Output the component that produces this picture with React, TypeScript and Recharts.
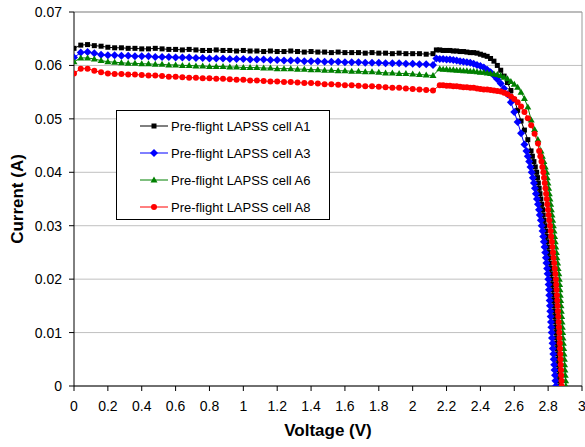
import { CartesianGrid, Legend, Line, LineChart, ReferenceLine, XAxis, YAxis } from "recharts"

// sweep region, same voltage steps for every cell
const sweepVoltage = [
  0, 0.04, 0.08, 0.12, 0.16, 0.2, 0.24, 0.28, 0.32, 0.36, 0.4, 0.44, 0.48, 0.52, 0.56, 0.6, 0.64, 0.68,
  0.72, 0.76, 0.8, 0.84, 0.88, 0.92, 0.96, 1.0, 1.04, 1.08, 1.12, 1.16, 1.2, 1.24, 1.28, 1.32, 1.36, 1.4,
  1.44, 1.48, 1.52, 1.56, 1.6, 1.64, 1.68, 1.72, 1.76, 1.8, 1.84, 1.88, 1.92, 1.96, 2.0, 2.04, 2.08, 2.12,
]

const a1SweepCurrent = [
  0.0632, 0.0638, 0.0639, 0.0637, 0.0636, 0.0634, 0.0633, 0.0633, 0.0632, 0.0632, 0.0631, 0.0631, 0.0632, 0.0631,
  0.063, 0.063, 0.0629, 0.063, 0.0629, 0.0628, 0.0628, 0.0629, 0.0628, 0.0628, 0.0627, 0.0628, 0.0627, 0.0627,
  0.0626, 0.0627, 0.0626, 0.0626, 0.0627, 0.0626, 0.0625, 0.0626, 0.0625, 0.0625, 0.0624, 0.0625, 0.0624, 0.0624,
  0.0624, 0.0623, 0.0624, 0.0623, 0.0623, 0.0622, 0.0623, 0.0622, 0.0622, 0.0622, 0.0621, 0.0622,
]
const a3SweepCurrent = [
  0.0615, 0.0624, 0.0625, 0.0623, 0.062, 0.0619, 0.0619, 0.0618, 0.0618, 0.0617, 0.0617, 0.0617, 0.0616, 0.0616,
  0.0616, 0.0615, 0.0615, 0.0615, 0.0614, 0.0614, 0.0613, 0.0613, 0.0613, 0.0612, 0.0612, 0.0612, 0.0611, 0.0611,
  0.0611, 0.061, 0.061, 0.0609, 0.0609, 0.0609, 0.0608, 0.0608, 0.0608, 0.0607, 0.0607, 0.0607, 0.0606, 0.0606,
  0.0606, 0.0605, 0.0605, 0.0605, 0.0604, 0.0604, 0.0604, 0.0603, 0.0603, 0.0602, 0.0602, 0.0601,
]
const a6SweepCurrent = [
  0.0607, 0.0614, 0.0614, 0.0612, 0.0609, 0.0607, 0.0606, 0.0605, 0.0604, 0.0604, 0.0603, 0.0603, 0.0602, 0.0602,
  0.0601, 0.0601, 0.06, 0.06, 0.0599, 0.0599, 0.0598, 0.0598, 0.0598, 0.0597, 0.0597, 0.0596, 0.0596, 0.0596,
  0.0595, 0.0595, 0.0594, 0.0594, 0.0594, 0.0593, 0.0593, 0.0592, 0.0592, 0.0591, 0.0591, 0.059, 0.059, 0.0589,
  0.0589, 0.0588, 0.0588, 0.0587, 0.0586, 0.0586, 0.0585, 0.0585, 0.0584, 0.0583, 0.0582, 0.0581,
]
const a8SweepCurrent = [
  0.0585, 0.0594, 0.0594, 0.059, 0.0587, 0.0585, 0.0584, 0.0584, 0.0583, 0.0583, 0.0582, 0.0581, 0.0581, 0.058,
  0.0579, 0.0579, 0.0578, 0.0577, 0.0577, 0.0576, 0.0576, 0.0575, 0.0575, 0.0574, 0.0573, 0.0573, 0.0572, 0.0572,
  0.0571, 0.057, 0.057, 0.0569, 0.0569, 0.0568, 0.0567, 0.0567, 0.0566, 0.0565, 0.0565, 0.0564, 0.0563, 0.0563,
  0.0562, 0.0561, 0.0561, 0.056, 0.0559, 0.0558, 0.0558, 0.0557, 0.0556, 0.0555, 0.0554, 0.0553,
]

// knee region [voltage, current]
const a1Knee = [
  [2.14, 0.0629], [2.16, 0.0629], [2.18, 0.0628], [2.2, 0.0628], [2.22, 0.0628], [2.24, 0.0627], [2.26, 0.0627],
  [2.28, 0.0626], [2.3, 0.0626], [2.32, 0.0625], [2.34, 0.0624], [2.36, 0.0624], [2.38, 0.0623], [2.4, 0.0621],
  [2.42, 0.0619], [2.44, 0.0617], [2.46, 0.0613], [2.48, 0.0608], [2.5, 0.06], [2.52, 0.0591], [2.54, 0.058],
  [2.56, 0.0568], [2.58, 0.0553], [2.6, 0.0536], [2.62, 0.0516], [2.64, 0.0496], [2.66, 0.0479], [2.68, 0.0461],
]
const a3Knee = [
  [2.14, 0.0613], [2.16, 0.0612], [2.18, 0.0612], [2.2, 0.0611], [2.22, 0.0611], [2.24, 0.061], [2.26, 0.0609],
  [2.28, 0.0608], [2.3, 0.0607], [2.32, 0.0606], [2.34, 0.0605], [2.36, 0.0603], [2.38, 0.0601], [2.4, 0.0599],
  [2.42, 0.0596], [2.44, 0.0592], [2.46, 0.0587], [2.48, 0.0581], [2.5, 0.0574], [2.52, 0.0566], [2.54, 0.0557],
  [2.56, 0.0546], [2.58, 0.0531], [2.6, 0.0513], [2.62, 0.0494], [2.64, 0.0473], [2.66, 0.0452],
]
const a6Knee = [
  [2.16, 0.0594], [2.18, 0.0593], [2.2, 0.0593], [2.22, 0.0592], [2.24, 0.0592], [2.26, 0.0591], [2.28, 0.0591],
  [2.3, 0.059], [2.32, 0.059], [2.34, 0.0589], [2.36, 0.0589], [2.38, 0.0588], [2.4, 0.0587], [2.42, 0.0587],
  [2.44, 0.0586], [2.46, 0.0585], [2.48, 0.0584], [2.5, 0.0583], [2.52, 0.0581], [2.54, 0.0578], [2.56, 0.0575],
  [2.58, 0.057], [2.6, 0.0565], [2.62, 0.0559], [2.64, 0.055], [2.66, 0.0538], [2.68, 0.0522], [2.7, 0.0498],
  [2.72, 0.048], [2.74, 0.0461],
]
const a8Knee = [
  [2.16, 0.0563], [2.18, 0.0563], [2.2, 0.0562], [2.22, 0.0562], [2.24, 0.0561], [2.26, 0.0561], [2.28, 0.056],
  [2.3, 0.0559], [2.32, 0.0559], [2.34, 0.0558], [2.36, 0.0558], [2.38, 0.0557], [2.4, 0.0556], [2.42, 0.0555],
  [2.44, 0.0555], [2.46, 0.0554], [2.48, 0.0553], [2.5, 0.0552], [2.52, 0.0551], [2.54, 0.0549], [2.56, 0.0546],
  [2.58, 0.0542], [2.6, 0.0537], [2.62, 0.0531], [2.64, 0.0523], [2.66, 0.0513], [2.68, 0.0501], [2.7, 0.0488],
  [2.72, 0.0472], [2.74, 0.0454],
]

// steep region, same current steps for every cell
const steepCurrent = [
  0.044, 0.043, 0.042, 0.041, 0.04, 0.039, 0.038, 0.037, 0.036, 0.035, 0.034, 0.033, 0.032, 0.031, 0.03,
  0.029, 0.028, 0.027, 0.026, 0.025, 0.024, 0.023, 0.022, 0.021, 0.02, 0.019, 0.018, 0.017, 0.016, 0.015,
  0.014, 0.013, 0.012, 0.011, 0.01, 0.009, 0.008, 0.007, 0.006, 0.005, 0.004, 0.003, 0.002, 0.001, 0,
]
const a1SteepVoltage = [
  2.699, 2.707, 2.716, 2.724, 2.732, 2.737, 2.742, 2.747, 2.752, 2.757, 2.762, 2.767, 2.771, 2.776, 2.781,
  2.785, 2.789, 2.793, 2.797, 2.801, 2.805, 2.809, 2.813, 2.817, 2.821, 2.824, 2.826, 2.829, 2.831, 2.834,
  2.836, 2.839, 2.841, 2.844, 2.846, 2.848, 2.85, 2.852, 2.854, 2.856, 2.858, 2.86, 2.862, 2.864, 2.866,
]
const a3SteepVoltage = [
  2.672, 2.68, 2.688, 2.696, 2.703, 2.71, 2.716, 2.722, 2.728, 2.734, 2.74, 2.746, 2.751, 2.757, 2.762,
  2.767, 2.771, 2.775, 2.779, 2.783, 2.787, 2.79, 2.794, 2.797, 2.801, 2.803, 2.805, 2.807, 2.809, 2.811,
  2.813, 2.815, 2.817, 2.819, 2.821, 2.823, 2.826, 2.828, 2.831, 2.833, 2.836, 2.838, 2.841, 2.843, 2.846,
]
const a6SteepVoltage = [
  2.758, 2.766, 2.775, 2.783, 2.791, 2.795, 2.799, 2.803, 2.807, 2.811, 2.815, 2.819, 2.823, 2.827, 2.831,
  2.835, 2.838, 2.842, 2.845, 2.849, 2.852, 2.856, 2.859, 2.863, 2.866, 2.868, 2.87, 2.872, 2.874, 2.876,
  2.878, 2.88, 2.882, 2.884, 2.886, 2.888, 2.89, 2.892, 2.894, 2.896, 2.897, 2.899, 2.901, 2.903, 2.905,
]
const a8SteepVoltage = [
  2.747, 2.754, 2.761, 2.766, 2.772, 2.776, 2.78, 2.784, 2.788, 2.792, 2.795, 2.799, 2.803, 2.807, 2.811,
  2.815, 2.818, 2.822, 2.825, 2.829, 2.832, 2.836, 2.839, 2.843, 2.846, 2.848, 2.85, 2.852, 2.854, 2.856,
  2.858, 2.86, 2.862, 2.864, 2.866, 2.867, 2.869, 2.87, 2.872, 2.873, 2.874, 2.876, 2.877, 2.879, 2.88,
]

const voltageTicks = [0, 0.2, 0.4, 0.6, 0.8, 1, 1.2, 1.4, 1.6, 1.8, 2, 2.2, 2.4, 2.6, 2.8, 3]
const currentTicks = [0, 0.01, 0.02, 0.03, 0.04, 0.05, 0.06, 0.07]

const font = "'Liberation Sans', Arial, sans-serif"

function buildCurve(sweep: number[], knee: number[][], steep: number[]) {
  return [
    ...sweepVoltage.map((v, k) => ({ v, i: sweep[k] })),
    ...knee.map(([v, i]) => ({ v, i })),
    ...steepCurrent.map((i, k) => ({ v: steep[k], i })),
  ]
}

const seriesList = [
  { name: "Pre-flight LAPSS cell A1", color: "#000000", shape: "square", data: buildCurve(a1SweepCurrent, a1Knee, a1SteepVoltage) },
  { name: "Pre-flight LAPSS cell A3", color: "#0000ff", shape: "diamond", data: buildCurve(a3SweepCurrent, a3Knee, a3SteepVoltage) },
  { name: "Pre-flight LAPSS cell A6", color: "#008000", shape: "triangle", data: buildCurve(a6SweepCurrent, a6Knee, a6SteepVoltage) },
  { name: "Pre-flight LAPSS cell A8", color: "#ff0000", shape: "circle", data: buildCurve(a8SweepCurrent, a8Knee, a8SteepVoltage) },
]

function Marker({ shape, cx, cy, color }: { shape: string; cx: number; cy: number; color: string }) {
  if (cx == null || cy == null) return null
  if (shape === "square") return <rect x={cx - 2.5} y={cy - 2.5} width={5} height={5} fill={color} />
  if (shape === "diamond")
    return <polygon points={`${cx},${cy - 4} ${cx + 4},${cy} ${cx},${cy + 4} ${cx - 4},${cy}`} fill={color} />
  if (shape === "triangle")
    return <polygon points={`${cx},${cy - 3.5} ${cx + 3.5},${cy + 2.5} ${cx - 3.5},${cy + 2.5}`} fill={color} />
  return <circle cx={cx} cy={cy} r={3} fill={color} />
}

function LegendBox() {
  return (
    <div
      style={{
        width: 212,
        height: 108,
        border: "1px solid #000",
        background: "#fff",
        position: "relative",
        fontFamily: font,
        fontSize: 13,
        color: "#000",
      }}
    >
      {seriesList.map((s, k) => (
        <div
          key={s.name}
          style={{ position: "absolute", left: 22, top: 7 + k * 27, height: 16, display: "flex", alignItems: "center", whiteSpace: "nowrap" }}
        >
          <svg width={30} height={16}>
            <line x1={1} x2={29} y1={8} y2={8} stroke={s.color} strokeWidth={1} />
            <Marker shape={s.shape} cx={15} cy={8} color={s.color} />
          </svg>
          <span style={{ marginLeft: 2 }}>{s.name}</span>
        </div>
      ))}
    </div>
  )
}

export default function App() {
  return (
    <div style={{ position: "absolute", left: 0, top: 0, width: 585, height: 447, background: "#fff" }}>
      <LineChart width={585} height={447} margin={{ top: 12, right: 3, bottom: 0, left: 0 }}>
        <CartesianGrid vertical={false} stroke="#c0c0c0" />
        <XAxis
          type="number"
          dataKey="v"
          domain={[0, 3]}
          ticks={voltageTicks}
          interval={0}
          allowDataOverflow
          height={61}
          tickSize={5}
          tickMargin={10}
          stroke="#000"
          tick={{ fill: "#000", fontSize: 14, fontFamily: font }}
          tickFormatter={(v) => String(v)}
          label={{
            content: (p: any) => (
              <text
                x={p.viewBox.x + p.viewBox.width / 2}
                y={p.viewBox.y + 50}
                textAnchor="middle"
                fontFamily={font}
                fontSize={17}
                fontWeight="bold"
                fill="#000"
              >
                Voltage (V)
              </text>
            ),
          }}
        />
        <YAxis
          type="number"
          domain={[0, 0.07]}
          ticks={currentTicks}
          interval={0}
          allowDataOverflow
          width={74}
          tickSize={5}
          tickMargin={7}
          stroke="#000"
          tick={{ fill: "#000", fontSize: 14, fontFamily: font }}
          tickFormatter={(v) => String(v)}
          label={{
            content: (p: any) => {
              const x = p.viewBox.x + 23
              const y = p.viewBox.y + p.viewBox.height / 2
              return (
                <text
                  x={x}
                  y={y}
                  transform={`rotate(-90, ${x}, ${y})`}
                  textAnchor="middle"
                  fontFamily={font}
                  fontSize={17}
                  fontWeight="bold"
                  fill="#000"
                >
                  Current (A)
                </text>
              )
            },
          }}
        />
        <ReferenceLine x={3} stroke="#999" />
        <ReferenceLine y={0.07} stroke="#999" />
        <Legend
          layout="vertical"
          align="center"
          verticalAlign="middle"
          wrapperStyle={{ left: 116, top: 110, width: 214, height: 110 }}
          content={() => <LegendBox />}
        />
        {seriesList.map((s) => (
          <Line
            key={s.name}
            data={s.data}
            dataKey="i"
            name={s.name}
            type="linear"
            stroke={s.color}
            strokeWidth={1}
            isAnimationActive={false}
            activeDot={false}
            dot={(p: any) => <Marker key={`${s.name}-${p.index}`} shape={s.shape} cx={p.cx} cy={p.cy} color={s.color} />}
          />
        ))}
      </LineChart>
    </div>
  )
}
